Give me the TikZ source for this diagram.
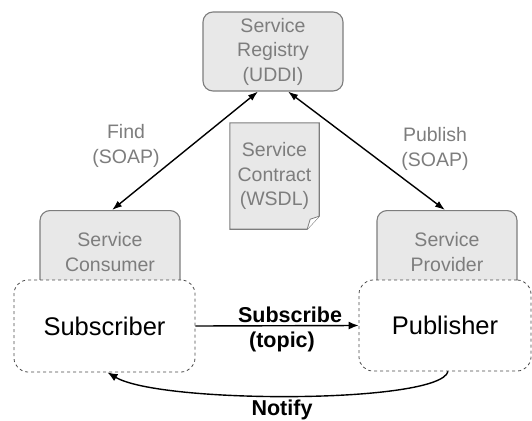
\documentclass[tikz,border=0pt]{standalone}
\usepackage{fontspec}
\setmainfont{Liberation Sans}
\usetikzlibrary{arrows.meta}

\definecolor{boxgray}{RGB}{232,232,232}
\definecolor{edgegray}{RGB}{125,125,125}
\definecolor{textgray}{RGB}{125,125,125}

\tikzset{
  svcbox/.style={draw=edgegray, fill=boxgray, line width=1.1pt, rounded corners=10pt,
    inner sep=0pt, text=textgray, align=center, font=\fontsize{19.5}{24.5}\selectfont},
  rolebox/.style={draw=black!70, fill=white, dashed, line width=0.8pt, rounded corners=14pt,
    inner sep=0pt, font=\fontsize{25.5}{30}\selectfont},
  graytxt/.style={text=textgray, align=center, font=\fontsize{19.5}{24.5}\selectfont},
  boldtxt/.style={align=center, font=\fontsize{21.5}{25}\selectfont\bfseries},
  link/.style={line width=1.4pt, {Latex[length=10pt,width=7pt]}-{Latex[length=10pt,width=7pt]}},
  oneway/.style={line width=1.4pt, -{Latex[length=10pt,width=8pt]}}
}

\begin{document}
\begin{tikzpicture}[x=1pt,y=-1pt]
\useasboundingbox (0,0) rectangle (532,420);

% registry at top
\node [svcbox, minimum width=140pt, minimum height=79pt] (registry) at (273,51.5) {Service\\Registry\\(UDDI)};

% consumer and provider (lower parts hidden behind the roles)
\node [svcbox, minimum width=140pt, minimum height=90pt, anchor=north] (consumer) at (110,210) {};
\node [svcbox, minimum width=140pt, minimum height=90pt, anchor=north] (provider) at (447,210) {};
\node [graytxt] (consumertxt) at (110,252) {Service\\Consumer};
\node [graytxt] (providertxt) at (447,252) {Service\\Provider};

% contract document with folded corner
\node [minimum width=89pt, minimum height=106pt, inner sep=0pt] (contract) at (274.5,176) {};
\draw [draw=edgegray, fill=boxgray, line width=1.1pt]
  (contract.north west) -- (contract.north east) -- ([yshift=13pt]contract.south east)
  -- ([xshift=-12pt]contract.south east) -- (contract.south west) -- cycle;
\draw [draw=edgegray, fill=white, line width=0.8pt]
  ([yshift=13pt]contract.south east) -- ([xshift=-9pt,yshift=10pt]contract.south east)
  -- ([xshift=-12pt]contract.south east);
\node [graytxt] (contracttxt) at (contract.center) {Service\\Contract\\(WSDL)};

% roles
\node [rolebox, minimum width=181pt, minimum height=92pt] (subscriber) at (104.5,326) {Subscriber};
\node [rolebox, minimum width=172pt, minimum height=91pt] (publisher) at (445,325.5) {Publisher};

% find / publish
\draw [link] ([xshift=-15pt]registry.south) -- ([xshift=2pt]consumer.north);
\draw [link] ([xshift=15pt]registry.south) -- ([xshift=-2pt]provider.north);
\node [graytxt] (find) at (126,146) {Find\\(SOAP)};
\node [graytxt] (publish) at (435,149) {Publish\\(SOAP)};

% subscribe / notify
\draw [oneway] (subscriber.east) -- (publisher.west);
\node [boldtxt] (subscribe) at (290,315) {Subscribe};
\node [boldtxt] (topic) at (282,342) {(topic)};
\draw [oneway] ([xshift=3pt]publisher.south) .. controls (440,404) and (160,404) .. ([xshift=3pt]subscriber.south);
\node [boldtxt] (notify) at (282,410) {Notify};
\end{tikzpicture}
\end{document}
